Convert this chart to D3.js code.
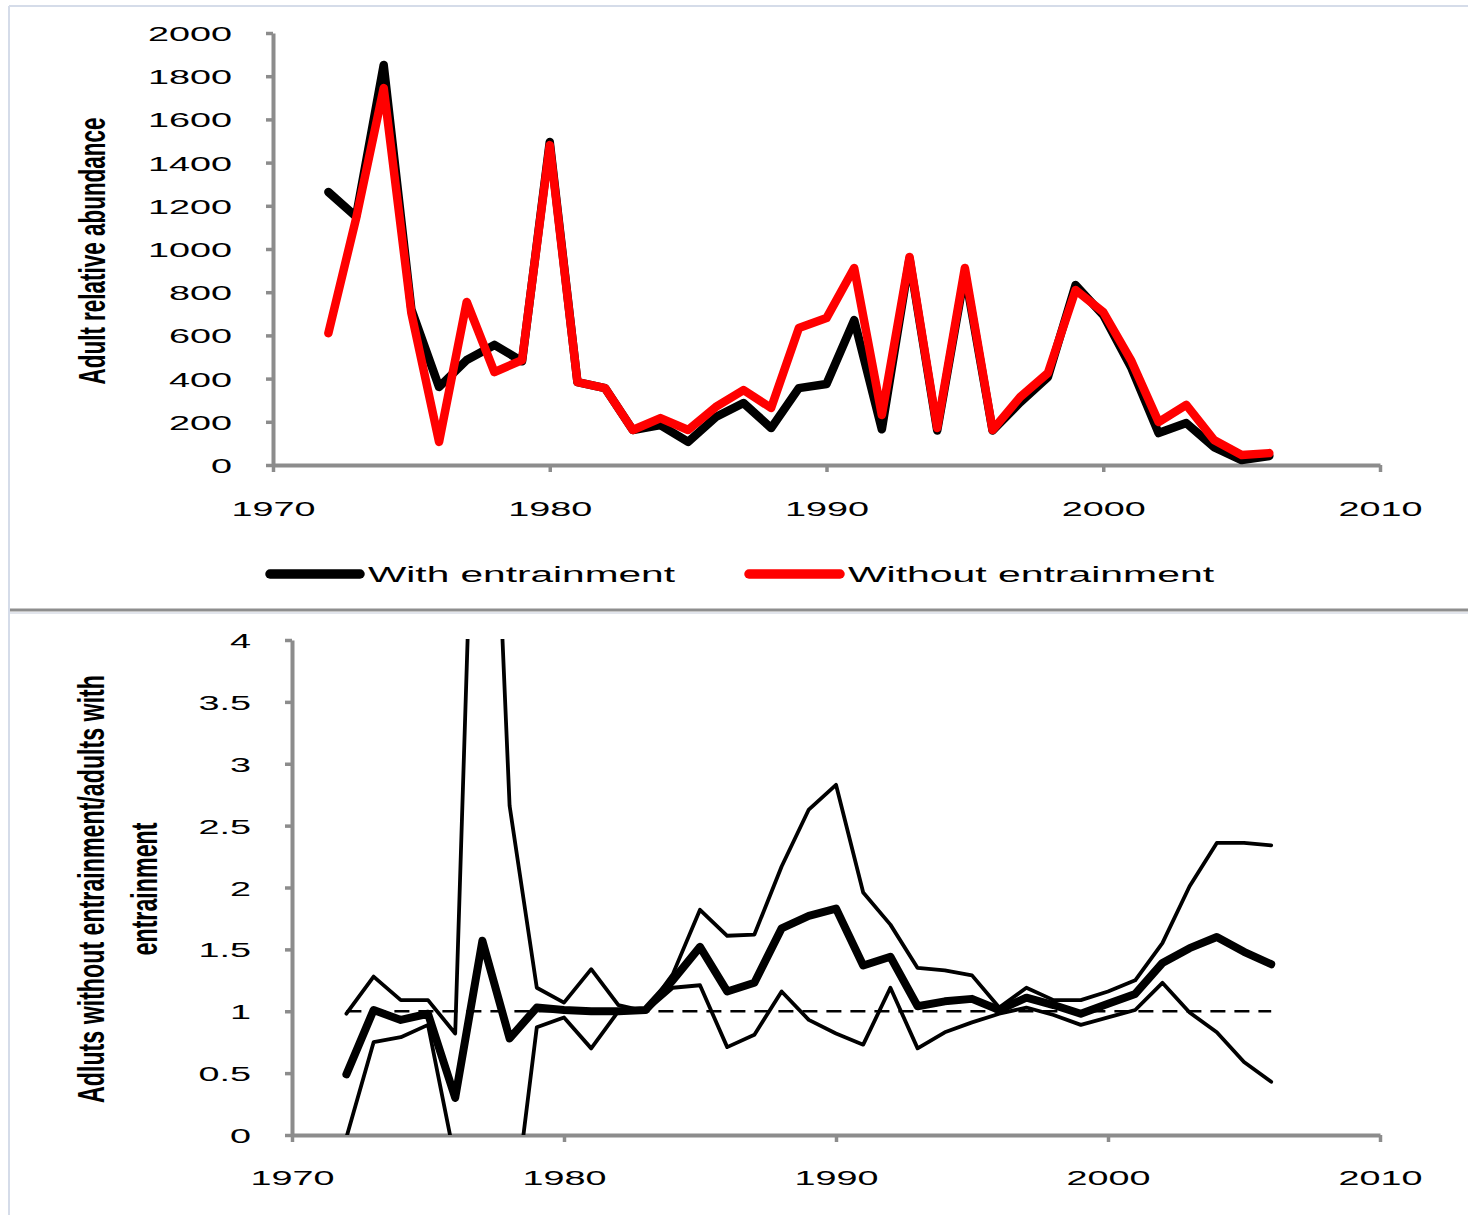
<!DOCTYPE html>
<html><head><meta charset="utf-8">
<script src="https://cdn.jsdelivr.net/npm/d3@7"></script>
<style>body{margin:0;background:#fff;} svg{display:block}</style>
</head><body>
<svg id="c" width="1468" height="1215"></svg>
<script>
// ---------- DATA ----------
const years = [1972,1973,1974,1975,1976,1977,1978,1979,1980,1981,1982,1983,1984,1985,1986,1987,1988,1989,1990,1991,1992,1993,1994,1995,1996,1997,1998,1999,2000,2001,2002,2003,2004,2005,2006];
const withEntrainment = [1264,1150,1852,720,361,486,556,480,1495,384,356,162,185,107,222,287,171,356,375,671,165,955,160,890,160,290,407,833,694,454,148,194,83,23,42];
const withoutEntrainment = [610,1140,1745,703,107,755,430,486,1481,384,356,162,217,162,269,347,264,634,680,912,231,963,171,912,162,315,426,810,708,486,199,278,116,46,55];
const ratioMedian = [0.49,1.01,0.93,0.98,0.30,1.57,0.78,1.03,1.01,1.00,1.00,1.01,1.25,1.52,1.16,1.23,1.67,1.77,1.83,1.37,1.44,1.04,1.08,1.10,1.01,1.11,1.05,0.98,1.06,1.14,1.39,1.51,1.60,1.48,1.38];
const ratioUpper = [0.98,1.28,1.09,1.09,0.82,7.8,2.66,1.19,1.07,1.34,1.05,1.00,1.30,1.82,1.61,1.62,2.17,2.63,2.83,1.96,1.70,1.35,1.33,1.29,1.03,1.19,1.09,1.09,1.16,1.25,1.55,2.01,2.36,2.36,2.34];
const ratioLower = [-0.02,0.75,0.79,0.89,-0.21,-1.0,-0.9,0.87,0.95,0.70,1.00,1.00,1.19,1.21,0.71,0.81,1.16,0.93,0.82,0.73,1.19,0.70,0.83,0.91,0.98,1.03,0.97,0.89,0.95,1.01,1.23,0.99,0.83,0.59,0.43];
const refYears = [1972, 2006];
const refValues = [1, 1];
const xTicks = [1970,1980,1990,2000,2010];
const xTickLabels = ["1970","1980","1990","2000","2010"];
const topYTicks = [0,200,400,600,800,1000,1200,1400,1600,1800,2000];
const topYTickLabels = ["0","200","400","600","800","1000","1200","1400","1600","1800","2000"];
const botYTicks = [0,0.5,1,1.5,2,2.5,3,3.5,4];
const botYTickLabels = ["0","0.5","1","1.5","2","2.5","3","3.5","4"];
const seriesNames = ["With entrainment","Without entrainment"];
const topTitle = "Adult relative abundance";
const botTitle = ["Adluts without entrainment/adults with","entrainment"];

// ---------- DRAW ----------
const svg = d3.select("#c");
const FONT = "'Liberation Sans', Arial, sans-serif";
const SX = 1.8;
const AX = "#8c8c8c";

// frame
svg.append("line").attr("x1",9).attr("x2",1468).attr("y1",6).attr("y2",6).attr("stroke","#d5dce9").attr("stroke-width",2);
svg.append("line").attr("x1",9).attr("x2",9).attr("y1",6).attr("y2",1215).attr("stroke","#d5dce9").attr("stroke-width",2);
svg.append("line").attr("x1",10).attr("x2",1468).attr("y1",610).attr("y2",610).attr("stroke","#8e8e8e").attr("stroke-width",3);
svg.append("line").attr("x1",10).attr("x2",1468).attr("y1",613).attr("y2",613).attr("stroke","#d9dde6").attr("stroke-width",1.5);

function styleAxis(g){
  g.select(".domain").attr("stroke",AX).attr("stroke-width",4);
  g.selectAll(".tick line").attr("stroke",AX).attr("stroke-width",3.5);
}
function styleYText(g){
  g.selectAll(".tick text").attr("x",null).attr("dy",null)
   .attr("transform",`translate(-41,7.5) scale(${SX},1)`)
   .attr("font-size",21).attr("font-family",FONT).attr("fill","#000");
}
function styleXText(g,off){
  g.selectAll(".tick text").attr("y",null).attr("dy",null)
   .attr("transform",`translate(0,${off}) scale(${SX},1)`)
   .attr("font-size",21).attr("font-family",FONT).attr("fill","#000");
}

// ----- top chart -----
const xT = d3.scaleLinear().domain([1970,2010]).range([273,1380]);
const yT = d3.scaleLinear().domain([0,2000]).range([465,33]);

const gxT = svg.append("g").attr("transform","translate(0,465)")
  .call(d3.axisBottom(xT).tickValues(xTicks).tickSize(7).tickSizeOuter(0).tickFormat((d,i)=>xTickLabels[i]));
styleAxis(gxT); styleXText(gxT,51);
const gyT = svg.append("g").attr("transform","translate(273,0)")
  .call(d3.axisLeft(yT).tickValues(topYTicks).tickSize(7).tickSizeOuter(0).tickFormat((d,i)=>topYTickLabels[i]));
styleAxis(gyT); styleYText(gyT);

const lineT = d3.line().x((d,i)=>xT(years[i])).y(d=>yT(d));
svg.append("path").datum(withEntrainment).attr("d",lineT).attr("fill","none").attr("stroke","#000")
  .attr("stroke-width",8.5).attr("stroke-linejoin","round").attr("stroke-linecap","round");
svg.append("path").datum(withoutEntrainment).attr("d",lineT).attr("fill","none").attr("stroke","#ff0000")
  .attr("stroke-width",8.5).attr("stroke-linejoin","round").attr("stroke-linecap","round");

svg.append("text").text(topTitle)
  .attr("transform",`translate(105,251) scale(${SX},1) rotate(-90)`)
  .attr("text-anchor","middle").attr("font-size",21).attr("font-weight","bold").attr("font-family",FONT)
  .attr("textLength",267).attr("lengthAdjust","spacingAndGlyphs");

// legend
const legendItems = [
  {name:seriesNames[0], color:"#000", x1:270, x2:360, tx:368, len:307},
  {name:seriesNames[1], color:"#ff0000", x1:749, x2:840, tx:848, len:366}
];
legendItems.forEach(it=>{
  svg.append("line").attr("x1",it.x1).attr("x2",it.x2).attr("y1",574).attr("y2",574)
    .attr("stroke",it.color).attr("stroke-width",9.5).attr("stroke-linecap","round");
  svg.append("text").text(it.name).attr("x",it.tx).attr("y",582)
    .attr("font-size",22).attr("font-family",FONT)
    .attr("textLength",it.len).attr("lengthAdjust","spacingAndGlyphs");
});

// ----- bottom chart -----
const xB = d3.scaleLinear().domain([1970,2010]).range([292,1380]);
const yB = d3.scaleLinear().domain([0,4]).range([1135,640]);

svg.append("clipPath").attr("id","clipB").append("rect")
  .attr("x",292).attr("y",639).attr("width",1088).attr("height",496);

const gxB = svg.append("g").attr("transform","translate(0,1135)")
  .call(d3.axisBottom(xB).tickValues(xTicks).tickSize(7).tickSizeOuter(0).tickFormat((d,i)=>xTickLabels[i]));
styleAxis(gxB); styleXText(gxB,50);
const gyB = svg.append("g").attr("transform","translate(292,0)")
  .call(d3.axisLeft(yB).tickValues(botYTicks).tickSize(7).tickSizeOuter(0).tickFormat((d,i)=>botYTickLabels[i]));
styleAxis(gyB); styleYText(gyB);

const plotB = svg.append("g").attr("clip-path","url(#clipB)");
const lineB = d3.line().x((d,i)=>xB(years[i])).y(d=>yB(d));
const lineRef = d3.line().x((d,i)=>xB(refYears[i])).y(d=>yB(d));

plotB.append("path").datum(refValues).attr("d",lineRef).attr("fill","none").attr("stroke","#000")
  .attr("stroke-width",2.5).attr("stroke-dasharray","15,9");
[ratioUpper, ratioLower].forEach(s=>{
  plotB.append("path").datum(s).attr("d",lineB).attr("fill","none").attr("stroke","#000")
    .attr("stroke-width",3.8).attr("stroke-linejoin","round").attr("stroke-linecap","round");
});
plotB.append("path").datum(ratioMedian).attr("d",lineB).attr("fill","none").attr("stroke","#000")
  .attr("stroke-width",8).attr("stroke-linejoin","round").attr("stroke-linecap","round");

svg.append("text").text(botTitle[0])
  .attr("transform",`translate(104,889) scale(${SX},1) rotate(-90)`)
  .attr("text-anchor","middle").attr("font-size",21).attr("font-weight","bold").attr("font-family",FONT)
  .attr("textLength",428).attr("lengthAdjust","spacingAndGlyphs");
svg.append("text").text(botTitle[1])
  .attr("transform",`translate(157,889) scale(${SX},1) rotate(-90)`)
  .attr("text-anchor","middle").attr("font-size",21).attr("font-weight","bold").attr("font-family",FONT)
  .attr("textLength",133).attr("lengthAdjust","spacingAndGlyphs");
</script>
</body></html>
